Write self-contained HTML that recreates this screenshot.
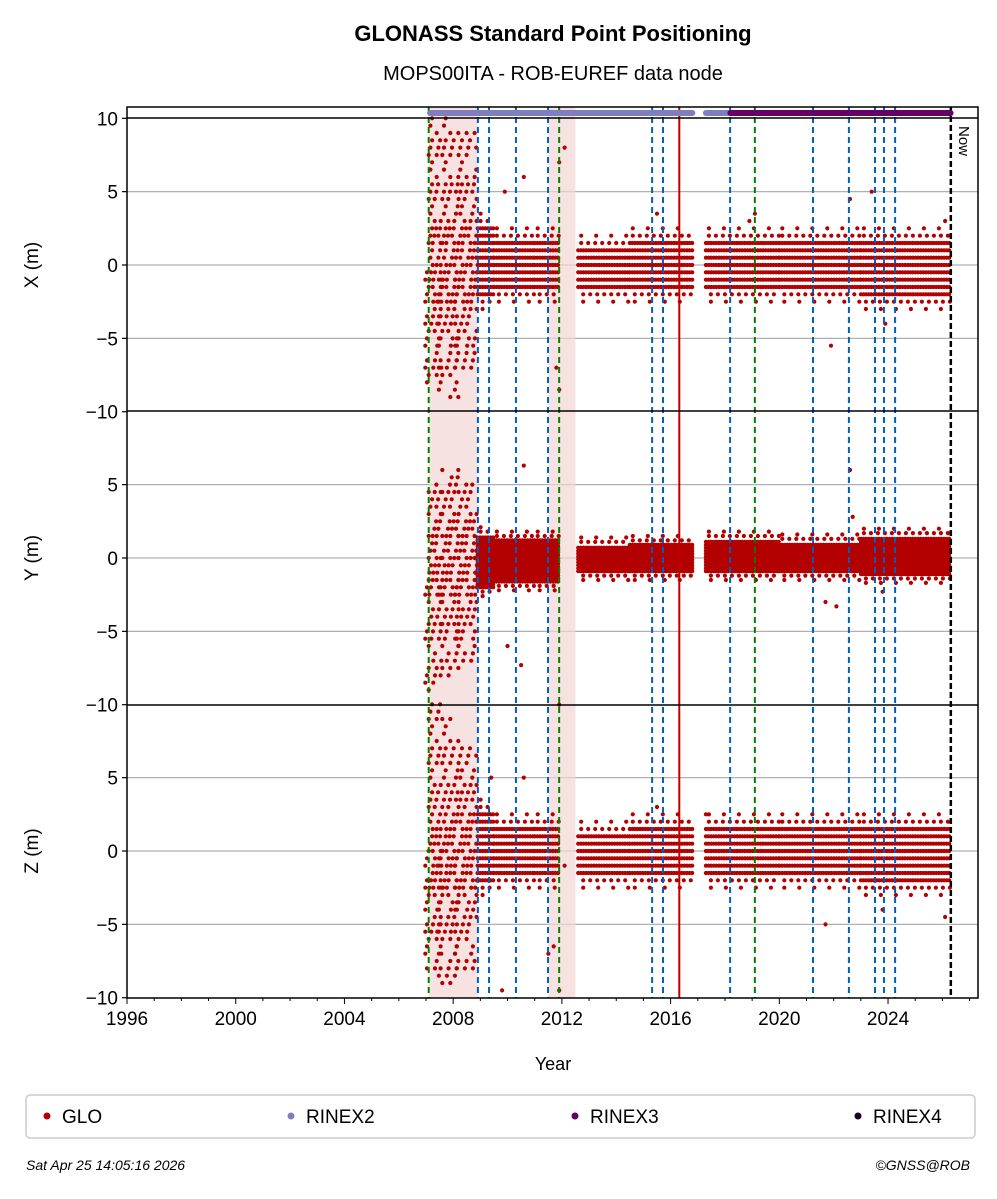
<!DOCTYPE html>
<html><head><meta charset="utf-8"><style>
body{margin:0;background:#fff}
svg text{font-family:"Liberation Sans","DejaVu Sans",sans-serif}
</style></head><body>
<svg id="c" width="997" height="1194" viewBox="0 0 997 1194" xmlns="http://www.w3.org/2000/svg">
<text x="553" y="41" text-anchor="middle" font-size="22" font-weight="bold">GLONASS Standard Point Positioning</text>
<text x="553" y="80" text-anchor="middle" font-size="20">MOPS00ITA - ROB-EUREF data node</text>
<g id="bg"></g><g id="marks"></g><g id="fg"></g>
<text x="553" y="1070" text-anchor="middle" font-size="18">Year</text>
<g>
<rect x="26" y="1095" width="949" height="43" rx="4" fill="#fff" stroke="#ccc" stroke-width="1.5"/>
<circle cx="47" cy="1116" r="3.5" fill="#b30000"/>
<text x="62" y="1123" font-size="19">GLO</text>
<circle cx="291" cy="1116" r="3.5" fill="#7f7fbf"/>
<text x="306" y="1123" font-size="19">RINEX2</text>
<circle cx="575" cy="1116" r="3.5" fill="#660066"/>
<text x="590" y="1123" font-size="19">RINEX3</text>
<circle cx="858" cy="1116" r="3.5" fill="#200020"/>
<text x="873" y="1123" font-size="19">RINEX4</text>
</g>
<text x="26" y="1170" font-size="14" font-style="italic">Sat Apr 25 14:05:16 2026</text>
<text x="970" y="1170" font-size="14" font-style="italic" text-anchor="end">©GNSS@ROB</text>
</svg>
<script>
// ---- data ----
const xTickYears=[1996,2000,2004,2008,2012,2016,2020,2024];
const yTickVals=[10,5,0,-5,-10];
const panelNames=["X (m)","Y (m)","Z (m)"];
const greenLines=[2007.1,2011.9,2019.1];
const blueLines=[2008.91,2009.32,2010.31,2011.49,2015.32,2015.72,2018.19,2021.24,2022.56,2023.52,2023.85,2024.26];
const redLines=[2016.32];
const nowYear=2026.31;
const shadeStart=[2007.1,2011.5];
const shadeEnd=[2008.9,2012.5];
const rinex2Start=[2007.15,2017.3];
const rinex2End=[2016.8,2018.2];
const rinex3Start=[2018.2];
const rinex3End=[2026.3];
// band segments: start, end, lo/hi per panel, sparse flag
const segStart=[2007.1,2007.6,2008.2,2008.9,2009.5,2011.0,2012.6,2014.5,2017.3,2020.0,2023.0];
const segEnd  =[2007.6,2008.2,2008.9,2009.5,2011.0,2011.9,2014.5,2016.8,2020.0,2023.0,2026.3];
const segSparse=[1,1,1,0,0,0,0,0,0,0,0];
const xLo=[-8,-9,-7,-2,-1.5,-1.5,-1.5,-1.5,-1.5,-1.5,-2];
const xHi=[10,10,9,2.5,1.5,1.5,1,1.5,1.5,1.5,1.5];
const yLo=[-9,-8,-7,-2,-1.6,-1.6,-0.9,-0.9,-0.9,-0.9,-1.1];
const yHi=[5,6,5,1.5,1.2,1.2,0.8,0.9,1.2,1.0,1.4];
const zLo=[-8,-9,-8,-2,-1.5,-1.5,-1.5,-1.5,-1.5,-1.5,-2];
const zHi=[10,9,7,2.5,1.5,1.5,1,1.5,1.5,1.5,1.5];
// outliers
const xOutT=[2009.9,2010.6,2011.9,2012.1,2015.5,2018.9,2019.1,2021.9,2022.6,2023.4,2023.9,2026.1,2011.8,2011.9];
const xOutV=[5,6,7,8,3.5,3,3.5,-5.5,4.5,5,-4,3,-7,-8.5];
const yOutT=[2010.6,2010.5,2011.9,2022.6,2022.7,2021.7,2022.1,2023.8,2010.0];
const yOutV=[6.3,-7.3,-10,6,2.8,-3,-3.3,-2.3,-6];
const zOutT=[2009.4,2010.6,2011.7,2011.9,2012.1,2015.5,2017.3,2021.7,2023.8,2026.1,2009.8,2011.5];
const zOutV=[5,5,-6.5,-9.5,-1,3,2.5,-5,-4,-4.5,-9.5,-7];

// ---- scales ----
const X0=127,X1=978;
const sx=y=>127+(y-1996)*27.18;
const zeros=[265,558,851];const pxm=14.67;
const sy=(p,v)=>zeros[p]-v*pxm;
const NS="http://www.w3.org/2000/svg";
function mk(tag,attrs,parent){const e=document.createElementNS(NS,tag);for(const k in attrs)e.setAttribute(k,attrs[k]);document.getElementById(parent).appendChild(e);return e;}

// grid
for(let p=0;p<3;p++){for(const v of [5,0,-5]){const g=mk('line',{x1:X0,x2:X1,y1:sy(p,v),y2:sy(p,v),stroke:'#b0b0b0','stroke-width':1.2},'bg');

}}
// shaded
shadeStart.forEach((s,i)=>{const r=mk('rect',{x:sx(s),y:107,width:sx(shadeEnd[i])-sx(s),height:891,fill:'#f3d6d6',opacity:0.7},'bg');

});

// bands
const los=[xLo,yLo,zLo],his=[xHi,yHi,zHi],ot=[xOutT,yOutT,zOutT],ov=[xOutV,yOutV,zOutV];
let html='';
function row(x0,x1,cy,dx,skip){let k=0;for(let x=x0;x<=x1;x+=dx){k++;if(skip&&((k*7+Math.round(cy))%skip===0))continue;html+=`<circle cx="${x.toFixed(1)}" cy="${cy.toFixed(1)}" r="2.1"/>`;}}
for(let p=0;p<3;p++){
 for(let i=0;i<segStart.length;i++){
  const a=sx(segStart[i]),b=sx(segEnd[i]);
  if(segSparse[i]){
   for(let v=los[p][i];v<=his[p][i]+1e-6;v+=0.5){
    const cy=Math.max(108,Math.min(997,sy(p,v)));
    const dens=Math.abs(v)<3?4:(Math.abs(v)<6?6:8);
    row(a+(Math.round(v*2)%3)*1.7,b,cy,dens,4);
   }
   continue;
  }
  const step=p===1?0.2:0.5;
  for(let v=los[p][i];v<=his[p][i]+1e-6;v+=step){row(a,b,sy(p,v),2.6,0);}
  const ext=p===1?[0.3,0.6]:[0.5,1.0];
  ext.forEach((e,k)=>{const dx=k?15:7;
   row(a+3,b,sy(p,his[p][i]+e),dx,0);
   row(a+5,b,sy(p,los[p][i]-e),dx,0);});
 }
 ot[p].forEach((t,j)=>{html+=`<circle cx="${sx(t).toFixed(1)}" cy="${sy(p,ov[p][j]).toFixed(1)}" r="2.1"/>`;});
}
const mg=mk('g',{fill:'#b30000'},'marks');


mg.innerHTML=html;

// vertical lines
function vline(y,col,dash,w,name){const l=mk('line',{x1:sx(y),x2:sx(y),y1:107,y2:998,stroke:col,'stroke-width':w},'fg');if(dash)l.setAttribute('stroke-dasharray',dash);

}
blueLines.forEach(y=>vline(y,'#0060c0','6,4',2,'receiver-change-line'));
greenLines.forEach(y=>vline(y,'#008000','6,4',2,'antenna-change-line'));
redLines.forEach(y=>vline(y,'#c00000',null,2,'event-line'));
vline(nowYear,'#000','6,3',2.5,'now-line');
const nt=mk('text',{x:0,y:0,'font-size':15,transform:`translate(${sx(nowYear)+8},126) rotate(90)`},'fg');nt.textContent='Now';


// rinex bars
function bar(s,e,col,name){const l=mk('line',{x1:sx(s),x2:sx(e),y1:113,y2:113,stroke:col,'stroke-width':6,'stroke-linecap':'round'},'fg');

}
rinex2Start.forEach((s,i)=>bar(s,rinex2End[i],'#7f7fbf','rinex2-bar'));
rinex3Start.forEach((s,i)=>bar(s,rinex3End[i],'#660066','rinex3-bar'));

// frame & separators
const fr=mk('rect',{x:X0,y:107,width:X1-X0,height:891,fill:'none',stroke:'#000','stroke-width':1.5},'fg');


[118,411,705].forEach(y=>{const l=mk('line',{x1:X0,x2:X1,y1:y,y2:y,stroke:'#000','stroke-width':1.5},'fg');

});
// y ticks/labels
for(let p=0;p<3;p++){
 yTickVals.forEach(v=>{const y=sy(p,v);
  if(p>0&&v===10)return;
  mk('line',{x1:X0-5,x2:X0,y1:y,y2:y,stroke:'#000','stroke-width':1.2},'fg');
  const t=mk('text',{x:X0-9,y:y+7,'text-anchor':'end','font-size':19},'fg');t.textContent=(v<0?'\u2212':'')+Math.abs(v);
  
  });
 const lt=mk('text',{x:0,y:0,'font-size':19,'text-anchor':'middle',transform:`translate(38,${zeros[p]}) rotate(-90)`},'fg');lt.textContent=panelNames[p];
 
 
}
// x ticks
for(let y=1996;y<=2027;y++){mk('line',{x1:sx(y),x2:sx(y),y1:998,y2:xTickYears.includes(y)?1004:1001,stroke:'#000','stroke-width':1},'fg');}
xTickYears.forEach(y=>{const t=mk('text',{x:sx(y),y:1025,'text-anchor':'middle','font-size':19},'fg');t.textContent=y;

});
</script>
</body></html>
